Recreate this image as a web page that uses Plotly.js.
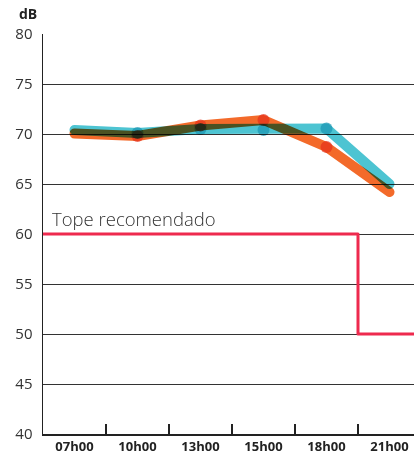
<!DOCTYPE html>
<html>
<head>
<meta charset="utf-8">
<script src="https://cdn.plot.ly/plotly-3.0.1.min.js"></script>
<style>
  html, body { margin: 0; padding: 0; background: #fff; overflow: hidden; }
  #chart { width: 414px; height: 454px; }
  /* the two measurement lines multiply where they overlap */
  .scatterlayer .trace:nth-child(-n+2) { mix-blend-mode: multiply; }
  .scatterlayer .js-line { stroke-linecap: round !important; stroke-linejoin: round !important; }
</style>
</head>
<body>
<div id="chart"></div>
<script>
// Hours of measurement
const hours = ['07h00', '10h00', '13h00', '15h00', '18h00', '21h00'];
// Noise level series (dB)
const seriesA = [70.4, 70.1, 70.5, 70.4, 70.55, 65.0];
const seriesB = [70.05, 69.8, 70.85, 71.4, 68.7, 64.2];
// Recommended ceiling for each hour (dB)
const limitValues = [60, 60, 60, 60, 60, 50];
// Which hours get a dot
const showDot = [false, true, true, true, true, false];

const idx = hours.map((_, i) => i);
const stepX = [-0.5, ...idx, hours.length - 0.5];
const stepY = [limitValues[0], ...limitValues, limitValues[limitValues.length - 1]];

const traces = [
  {
    x: idx, y: seriesA, type: 'scatter', mode: 'lines+markers',
    line: { color: '#4dc4d2', width: 10 },
    marker: { color: '#1996b2', size: showDot.map(s => s ? 12 : 0), line: { width: 0 } },
    hoverinfo: 'skip', cliponaxis: false
  },
  {
    x: idx, y: seriesB, type: 'scatter', mode: 'lines+markers',
    line: { color: '#f36a2a', width: 10 },
    marker: { color: '#e6301a', size: showDot.map(s => s ? 12 : 0), line: { width: 0 } },
    hoverinfo: 'skip', cliponaxis: false
  },
  {
    x: stepX, y: stepY, type: 'scatter', mode: 'lines',
    line: { color: '#ee2a4e', width: 3, shape: 'hvh' },
    hoverinfo: 'skip'
  }
];

const layout = {
  width: 414, height: 454,
  margin: { l: 43, r: 0, t: 34, b: 20 },
  paper_bgcolor: '#fff', plot_bgcolor: '#fff',
  showlegend: false,
  font: { family: 'Open Sans, sans-serif', color: '#222' },
  xaxis: {
    type: 'linear',
    range: [-0.5, (414 - 43) / 63 - 0.5],
    tickvals: idx, ticktext: hours,
    ticks: '', showgrid: false, zeroline: false,
    showline: true, linecolor: '#222', linewidth: 1.5,
    tickfont: { size: 13, weight: 'bold', color: '#222' },
    ticklabelstandoff: 0,
    minor: {
      tickvals: idx.slice(0, -1).map(i => i + 0.5),
      ticks: 'inside', ticklen: 10, tickcolor: '#222', tickwidth: 1.5, showgrid: false
    },
    fixedrange: true
  },
  yaxis: {
    range: [40, 80],
    tickvals: [40, 45, 50, 55, 60, 65, 70, 75, 80],
    ticks: '', showgrid: true, gridcolor: '#333', gridwidth: 1,
    zeroline: false, showline: true, linecolor: '#222', linewidth: 1.5,
    tickfont: { size: 15, color: '#333' },
    ticklabelstandoff: 6,
    fixedrange: true
  },
  annotations: [
    {
      text: 'dB', xref: 'paper', yref: 'paper', x: 0, y: 1,
      xanchor: 'right', yanchor: 'bottom', xshift: -4, yshift: 9,
      showarrow: false, font: { size: 14, weight: 'bold', color: '#222' }
    },
    {
      text: 'Tope recomendado', xref: 'x', yref: 'y', x: -0.5, y: limitValues[0],
      xanchor: 'left', yanchor: 'bottom', xshift: 7, yshift: 1,
      showarrow: false, font: { size: 18.5, weight: 300, color: '#333' }
    }
  ]
};

Plotly.newPlot('chart', traces, layout, { displayModeBar: false, staticPlot: true });
</script>
</body>
</html>
